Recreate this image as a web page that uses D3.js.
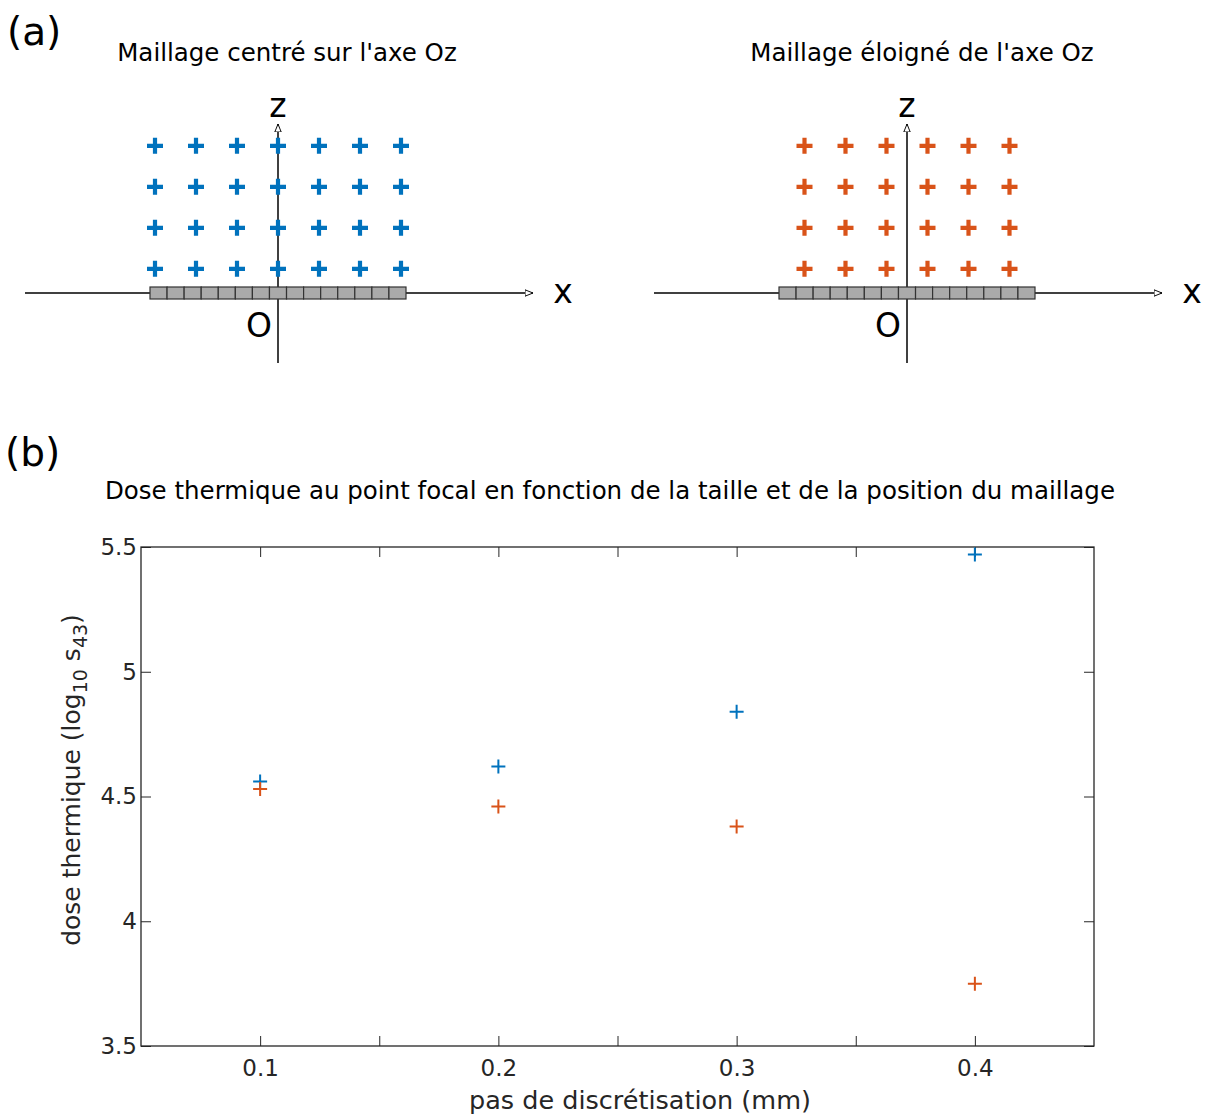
<!DOCTYPE html>
<html><head><meta charset="utf-8">
<script src="https://cdn.jsdelivr.net/npm/d3@7"></script>
<style>body{margin:0;background:#fff}svg{display:block}text{font-family:"DejaVu Sans",sans-serif}</style>
</head><body>
<svg id="c" width="1208" height="1115"></svg>
<script>
// ---- data ----
const steps = [0.1, 0.2, 0.3, 0.4];
const doseCentered = [4.56, 4.62, 4.84, 5.47];
const doseOffset = [4.53, 4.46, 4.38, 3.75];
const xTicks = [0.1, 0.15, 0.2, 0.25, 0.3, 0.35, 0.4];
const xTickLabels = ["0.1", "", "0.2", "", "0.3", "", "0.4"];
const yTicks = [3.5, 4, 4.5, 5, 5.5];
const yTickLabels = ["3.5", "4", "4.5", "5", "5.5"];
const centeredCols = [-3, -2, -1, 0, 1, 2, 3];
const offsetCols = [-2.5, -1.5, -0.5, 0.5, 1.5, 2.5];
const meshRows = [1, 2, 3, 4];
const transducerCells = d3.range(15);
const panelTitles = ["Maillage centré sur l'axe Oz", "Maillage éloigné de l'axe Oz"];
const chartTitle = "Dose thermique au point focal en fonction de la taille et de la position du maillage";

const BLUE = "#0072BD", ORANGE = "#D95319", AX = "#262626";
const svg = d3.select("#c");

// arrow marker
svg.append("defs").append("marker").attr("id","arr").attr("viewBox","0 0 10 10")
  .attr("refX",10).attr("refY",5).attr("markerWidth",8).attr("markerHeight",8)
  .attr("markerUnits","userSpaceOnUse").attr("orient","auto")
  .append("path").attr("d","M0,1 L10,5 L0,9 Z").attr("fill","#fff").attr("stroke","#000").attr("stroke-width",1.2);

svg.append("text").attr("x",7).attr("y",45).attr("font-size",39).text("(a)");
svg.append("text").attr("x",5).attr("y",466).attr("font-size",39).text("(b)");

// ---- panel (a) diagrams ----
function diagram(ox, cols, color, title, titleX) {
  const g = svg.append("g");
  const sx = d3.scaleLinear().domain([0, 1]).range([ox, ox + 41]);
  const sz = d3.scaleLinear().domain([0, 1]).range([293, 293 - 41]);
  const cellX = d3.scaleLinear().domain([0, 15]).range([ox - 128, ox + 128]);
  g.append("text").attr("x", titleX).attr("y", 61).attr("text-anchor","middle").attr("font-size",24.5).text(title);
  // x axis
  g.append("line").attr("x1", ox - 253).attr("x2", ox + 255).attr("y1", 293).attr("y2", 293)
    .attr("stroke","#000").attr("stroke-width",1.5).attr("marker-end","url(#arr)");
  // z axis
  g.append("line").attr("x1", ox).attr("x2", ox).attr("y1", 363).attr("y2", 124)
    .attr("stroke","#000").attr("stroke-width",1.5).attr("marker-end","url(#arr)");
  // transducer cells
  g.selectAll("rect.cell").data(transducerCells).join("rect").attr("class","cell")
    .attr("x", d => cellX(d)).attr("y", 287).attr("width", cellX(1) - cellX(0)).attr("height", 12)
    .attr("fill","#aaaaaa").attr("stroke","#333").attr("stroke-width",1.2);
  // mesh crosses
  const pts = [];
  meshRows.forEach(r => cols.forEach(c => pts.push([c, r])));
  g.selectAll("path.pt").data(pts).join("path").attr("class","pt")
    .attr("d", d => { const x = sx(d[0]), y = sz(d[1] - 0.41); return `M${x-8},${y}H${x+8}M${x},${y-8}V${y+8}`; })
    .attr("stroke", color).attr("stroke-width", 4.2).attr("fill","none");
  g.append("text").attr("x", ox).attr("y", 117).attr("text-anchor","middle").attr("font-size",33).text("z");
  g.append("text").attr("x", ox + 285).attr("y", 303).attr("text-anchor","middle").attr("font-size",33).text("x");
  g.append("text").attr("x", ox - 19).attr("y", 337).attr("text-anchor","middle").attr("font-size",33).text("O");
}
diagram(278, centeredCols, BLUE, panelTitles[0], 287);
diagram(907, offsetCols, ORANGE, panelTitles[1], 922);

// ---- panel (b) chart ----
const L = 141, R = 1094, T = 547, B = 1046;
const x = d3.scaleLinear().domain([0.05, 0.45]).range([L, R]);
const y = d3.scaleLinear().domain([3.5, 5.5]).range([B, T]);

svg.append("text").attr("x", 610).attr("y", 499).attr("text-anchor","middle").attr("font-size",24.5).attr("fill","#000").text(chartTitle);

const fmtX = (d, i) => xTickLabels[i];
const fmtY = (d, i) => yTickLabels[i];
function styleAxis(s) { s.select(".domain").remove(); s.selectAll("line").attr("stroke", AX); s.selectAll("text").attr("fill", AX).attr("font-size", 23).attr("font-family","DejaVu Sans"); }
svg.append("g").attr("transform",`translate(0,${B})`).call(d3.axisBottom(x).tickValues(xTicks).tickFormat(fmtX).tickSizeInner(-10).tickSizeOuter(0).tickPadding(14)).call(styleAxis);
svg.append("g").attr("transform",`translate(0,${T})`).call(d3.axisTop(x).tickValues(xTicks).tickFormat("").tickSizeInner(-10).tickSizeOuter(0)).call(styleAxis);
svg.append("g").attr("transform",`translate(${L},0)`).call(d3.axisLeft(y).tickValues(yTicks).tickFormat(fmtY).tickSizeInner(-10).tickSizeOuter(0).tickPadding(4)).call(styleAxis);
svg.append("g").attr("transform",`translate(${R},0)`).call(d3.axisRight(y).tickValues(yTicks).tickFormat("").tickSizeInner(-10).tickSizeOuter(0)).call(styleAxis);
svg.append("rect").attr("x", L).attr("y", T).attr("width", R - L).attr("height", B - T).attr("fill","none").attr("stroke", AX).attr("stroke-width", 1.3);

function plus(sel, color) {
  sel.attr("d", d => { const px = x(d[0]), py = y(d[1]); return `M${px-7},${py}H${px+7}M${px},${py-7}V${py+7}`; })
    .attr("stroke", color).attr("stroke-width", 2).attr("fill","none");
}
svg.selectAll("path.c").data(steps.map((s,i)=>[s, doseCentered[i]])).join("path").attr("class","c").call(plus, BLUE);
svg.selectAll("path.o").data(steps.map((s,i)=>[s, doseOffset[i]])).join("path").attr("class","o").call(plus, ORANGE);

svg.append("text").attr("x", 640).attr("y", 1109).attr("text-anchor","middle").attr("font-size",25.5).attr("fill", AX).text("pas de discrétisation (mm)");
const yl = svg.append("text").attr("transform",`translate(80,780) rotate(-90)`).attr("text-anchor","middle").attr("font-size",25).attr("fill", AX);
yl.append("tspan").text("dose thermique (log");
yl.append("tspan").attr("font-size",19).attr("dy",7).text("10");
yl.append("tspan").attr("dy",-7).text(" s");
yl.append("tspan").attr("font-size",19).attr("dy",7).text("43");
yl.append("tspan").attr("dy",-7).text(")");
</script>
</body></html>
